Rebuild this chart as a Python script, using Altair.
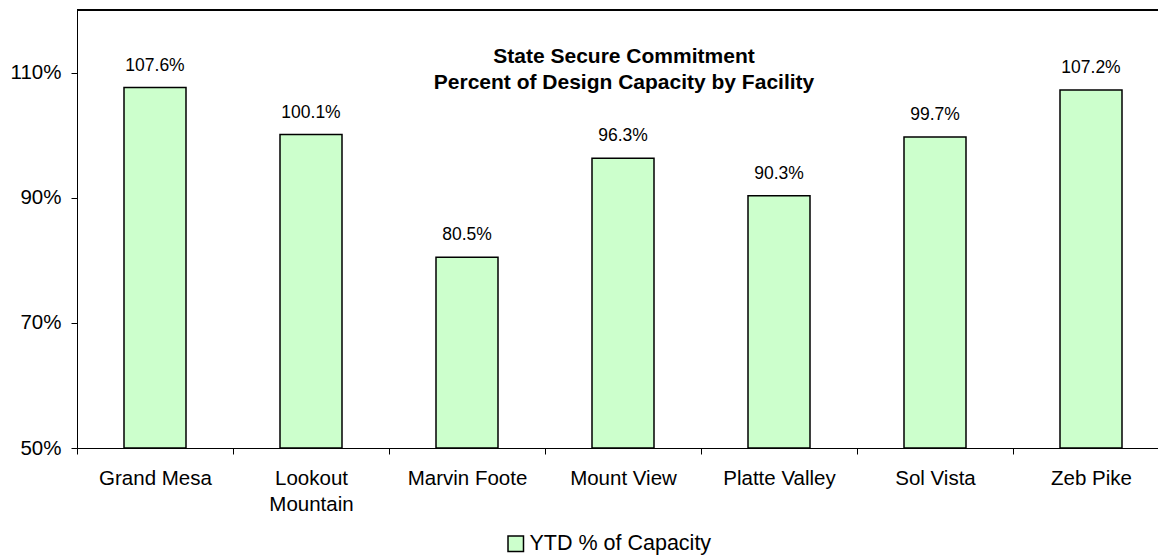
import altair as alt
import pandas as pd

facilities = ["Grand Mesa", "Lookout Mountain", "Marvin Foote", "Mount View",
              "Platte Valley", "Sol Vista", "Zeb Pike"]
values = [107.6, 100.1, 80.5, 96.3, 90.3, 99.7, 107.2]
value_labels = ["107.6%", "100.1%", "80.5%", "96.3%", "90.3%", "99.7%", "107.2%"]
series_name = "YTD % of Capacity"
title_lines = ["State Secure Commitment", "Percent of Design Capacity by Facility"]
y_ticks = [50, 70, 90, 110]

df = pd.DataFrame({
    "facility": facilities,
    "value": values,
    "label": value_labels,
    "series": [series_name] * len(facilities),
    "base": [50] * len(facilities),
})

FONT = "Liberation Sans"
W, H = 1081, 438
XRANGE = 1092

x_enc = alt.X(
    "facility:N",
    sort=facilities,
    scale=alt.Scale(range=[0, XRANGE], paddingInner=0, paddingOuter=0),
    axis=alt.Axis(
        title=None, labelAngle=0, tickBand="extent", tickSize=6,
        tickColor="black", domainColor="black", labelColor="black",
        labelFont=FONT, labelFontSize=20.5, labelPadding=14,
        labelExpr="datum.value == 'Lookout Mountain' ? ['Lookout', 'Mountain'] : datum.value",
        labelLineHeight=26, labelBaseline="top",
    ),
)
y_scale = alt.Scale(domain=[50, 120], nice=False, zero=False)
y_enc = alt.Y(
    "value:Q",
    scale=y_scale,
    axis=alt.Axis(
        title=None, values=y_ticks, grid=False, tickSize=6, tickColor="black",
        domainColor="black", labelColor="black", labelFont=FONT,
        labelFontSize=20.5, labelPadding=10, labelExpr="datum.value + '%'",
    ),
)

bars = alt.Chart(df).mark_bar(size=62, stroke="black", strokeWidth=1.5).encode(
    x=x_enc,
    y=y_enc,
    y2="base:Q",
    fill=alt.Fill(
        "series:N",
        scale=alt.Scale(range=["#CCFFCC"]),
        legend=alt.Legend(
            title=None, orient="none", legendX=428, legendY=523,
            symbolType="square", symbolSize=240, symbolStrokeColor="black",
            symbolStrokeWidth=1.5, labelFont=FONT, labelFontSize=21.5,
            labelColor="black", padding=0, labelOffset=3, labelLimit=0,
        ),
    ),
)

texts = alt.Chart(df).mark_text(
    font=FONT, fontSize=17.5, color="black", baseline="alphabetic", dy=-17
).encode(
    x=alt.X("facility:N", sort=facilities),
    y=alt.Y("value:Q"),
    text="label:N",
)

title_df = pd.DataFrame({"t": [title_lines]})
title = alt.Chart(title_df).mark_text(
    font=FONT, fontSize=21, fontWeight="bold", color="black",
    align="center", baseline="alphabetic", lineHeight=26.6,
).encode(
    x=alt.value(547), y=alt.value(52.7), text="t:N",
)

top_border = alt.Chart(df).mark_rule(color="black", strokeWidth=1).encode(
    x=alt.value(0), x2=alt.value(XRANGE), y=alt.value(0)
)

chart = alt.layer(bars, texts, title, top_border).properties(
    width=W, height=H,
    autosize=alt.AutoSizeParams(type="none"),
    padding={"left": 77, "top": 10, "right": 0, "bottom": 108},
).configure_view(stroke=None)

chart.save("out.html", embed_options={"renderer": "svg", "actions": False})
